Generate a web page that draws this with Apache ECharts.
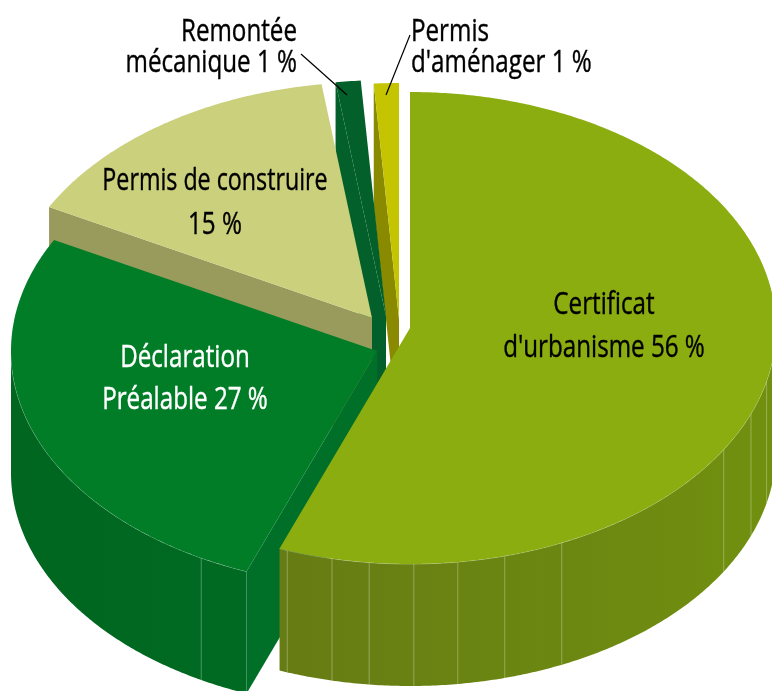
<!DOCTYPE html>
<html>
<head>
<meta charset="utf-8">
<style>
  html, body { margin: 0; padding: 0; background: #fff; }
  #chart { width: 772px; height: 691px; }
</style>
</head>
<body>
<div id="chart"></div>
<script src="https://cdn.jsdelivr.net/npm/echarts@6/dist/echarts.min.js"></script>
<script>
// parts of each permit type, in clockwise order from the top
const categories = ['Certificat', 'Déclaration', 'Permis de construire', 'Remontée', 'Permis']
const values = [55.8, 27, 15, 1.1, 1.1]
// angles (degrees clockwise from top) of the seams on the outer wall
const seams = [[103, 111.3, 121, 155.5, 165, 172.5, 179.4, 186.4, 192.3, 199.6], [208.7], [], [], []]

const topColors = ['#8bad10', '#007d26', '#cbd07d', '#03602a', '#c4c400']
const sideColors = ['#6f8e12', '#007028', '#989b5c', '#03602a', '#8a8a00']
const wallLeft = ['#667c14', '#006620', '#989b5c', '#03602a', '#8a8a00']
const wallRight = ['#71900f', '#006a22', '#989b5c', '#03602a', '#8a8a00']
// where each exploded slice has its tip
const tips = [[410, 328], [377, 351], [372, 318], [386, 316], [399, 319]]
const rx = 366
const ry = 236
const depth = 122
const font = '"Open Sans", sans-serif'

const total = values.reduce((a, b) => a + b, 0)
const startAngles = []
values.reduce((sum, v, i) => {
  startAngles[i] = sum / total * 360
  return sum + v
}, 0)

function rim(i, deg, down) {
  const a = deg * Math.PI / 180
  return [tips[i][0] + rx * Math.sin(a), tips[i][1] - ry * Math.cos(a) + (down || 0)]
}

function arc(i, from, to, down) {
  const pts = []
  const steps = Math.max(2, Math.ceil((to - from) * 2))
  for (let s = 0; s <= steps; ++s) {
    pts.push(rim(i, from + (to - from) * s / steps, down))
  }
  return pts
}

function renderSlice(params, api) {
  const i = api.value(0)
  const a0 = startAngles[i]
  const a1 = a0 + values[i] / total * 360
  const tip = tips[i]
  const children = []

  // cut face on the starting edge
  const edge = rim(i, a0)
  children.push({
    type: 'polygon',
    shape: { points: [tip, edge, [edge[0], edge[1] + depth], [tip[0], tip[1] + depth]] },
    style: { fill: sideColors[i] }
  })

  // outer wall, only the part facing the viewer
  const w0 = Math.max(a0, 90)
  const w1 = Math.min(a1, 270)
  if (w1 > w0) {
    children.push({
      type: 'polygon',
      shape: { points: arc(i, w0, w1, 0).concat(arc(i, w0, w1, depth).reverse()) },
      style: {
        fill: {
          type: 'linear', x: 0, y: 0, x2: 1, y2: 0,
          colorStops: [{ offset: 0, color: wallLeft[i] }, { offset: 1, color: wallRight[i] }]
        }
      }
    })
    seams[i].forEach(deg => {
      const p = rim(i, deg)
      children.push({
        type: 'line',
        shape: { x1: p[0], y1: p[1], x2: p[0], y2: p[1] + depth },
        style: { stroke: 'rgba(255,255,255,0.3)', lineWidth: 1 }
      })
    })
    children.push({
      type: 'polyline',
      shape: { points: arc(i, w0, w1, 0) },
      style: { fill: null, stroke: 'rgba(255,255,255,0.35)', lineWidth: 1 }
    })
  }

  // top face
  children.push({
    type: 'polygon',
    shape: { points: [tip].concat(arc(i, a0, a1, 0)) },
    style: { fill: topColors[i] }
  })

  return { type: 'group', children: children }
}

// no condensed font installed, so squeeze Open Sans sideways
function label(text, x, y, align, color, squeeze) {
  return {
    type: 'text',
    x: x,
    y: y,
    z: 10,
    scaleX: squeeze || 0.78,
    style: {
      text: text,
      fill: color,
      stroke: color,
      lineWidth: 0.4,
      font: '31px ' + font,
      textAlign: align,
      textVerticalAlign: 'middle'
    }
  }
}

function leader(x1, y1, x2, y2) {
  return {
    type: 'line',
    z: 10,
    shape: { x1: x1, y1: y1, x2: x2, y2: y2 },
    style: { stroke: '#000', lineWidth: 1.2 }
  }
}

const chart = echarts.init(document.getElementById('chart'), null, { renderer: 'canvas' })
chart.setOption({
  animation: false,
  backgroundColor: '#fff',
  series: [{
    type: 'custom',
    coordinateSystem: 'none',
    silent: true,
    renderItem: renderSlice,
    // back slices first so the front ones cover them
    data: [4, 3, 2, 1, 0].map(i => ({ name: categories[i], value: [i, values[i]] }))
  }],
  graphic: [
    label('Remontée', 297, 32, 'right', '#000'),
    label('mécanique 1 %', 297, 63, 'right', '#000'),
    label('Permis', 411, 32, 'left', '#000'),
    label("d'aménager 1 %", 411, 63, 'left', '#000'),
    label('Permis de construire', 215, 181, 'center', '#000', 0.75),
    label('15 %', 215, 225, 'center', '#000'),
    label('Déclaration', 185, 358, 'center', '#fff'),
    label('Préalable 27 %', 185, 400, 'center', '#fff'),
    label('Certificat', 604, 305, 'center', '#000'),
    label("d'urbanisme 56 %", 604, 348, 'center', '#000'),
    leader(301, 54, 347, 95),
    leader(410, 35, 386, 95)
  ]
})
</script>
</body>
</html>
